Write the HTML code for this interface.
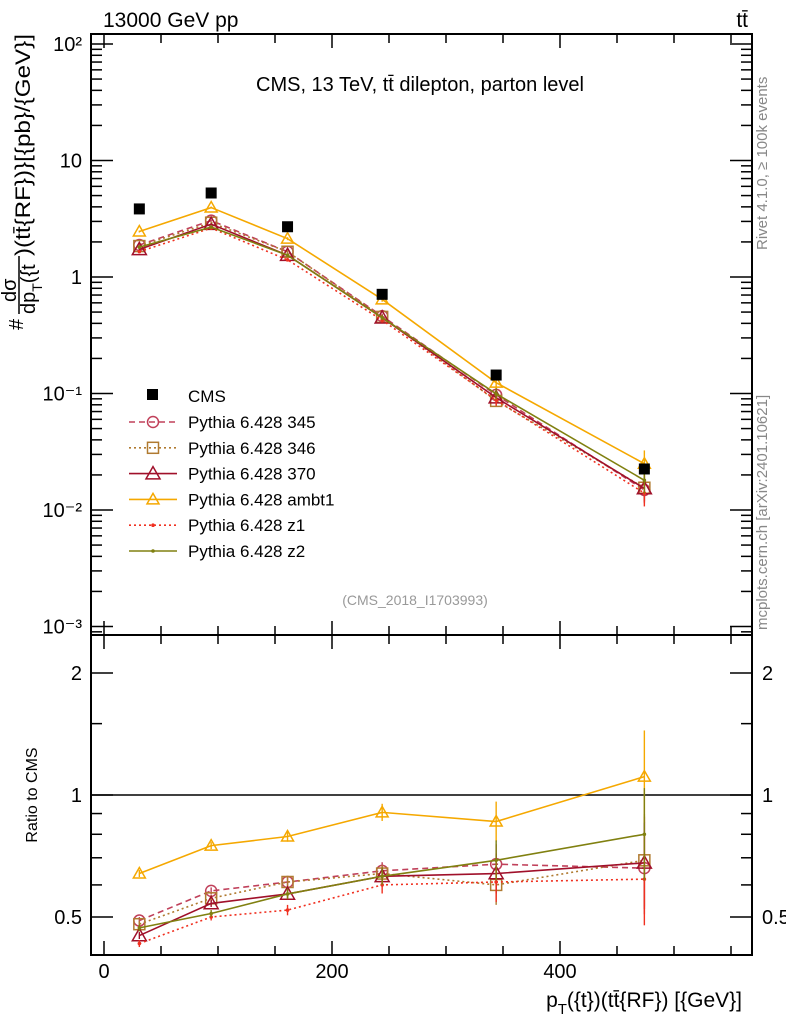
<!DOCTYPE html>
<html><head><meta charset="utf-8"><style>
body{margin:0;background:#fff;}
svg{display:block;font-family:"Liberation Sans",sans-serif;}
</style></head><body>
<svg id="c" width="786" height="1024" xmlns="http://www.w3.org/2000/svg"></svg>
<script>
const xCenters=[31,94,161,244,344,474];
const cmsVals=[3.84,5.26,2.70,0.71,0.144,0.0225];
const seriesNames=["Pythia 6.428 345","Pythia 6.428 346","Pythia 6.428 370","Pythia 6.428 ambt1","Pythia 6.428 z1","Pythia 6.428 z2"];
const ratio345=[0.49,0.58,0.61,0.65,0.675,0.66];
const ratio346=[0.48,0.556,0.61,0.64,0.60,0.69];
const ratio370=[0.45,0.54,0.57,0.63,0.64,0.68];
const ratioAmbt1=[0.64,0.75,0.79,0.906,0.86,1.11];
const ratioZ1=[0.43,0.50,0.52,0.60,0.61,0.62];
const ratioZ2=[0.47,0.51,0.57,0.63,0.69,0.80];
const mcErr=[0.02,0.02,0.03,0.05,0.12,0.3];
const xTicksMajor=[0,200,400];
const mainYTickLabels=["10\u207B\u00B3","10\u207B\u00B2","10\u207B\u00B9","1","10","10\u00B2"];
const ratioTickVals=[0.5,1,2];

const svg=document.getElementById('c');
const NS="http://www.w3.org/2000/svg";
function mk(tag,attrs,parent){const e=document.createElementNS(NS,tag);for(const k in attrs)e.setAttribute(k,attrs[k]);(parent||svg).appendChild(e);return e;}
const L=91,R=752,T=34,MB=635,RB=955;
const X=v=>104+1.14*v;
const Y=v=>277-116.5*Math.log10(v);
const RY=v=>795-122*Math.log2(v);

let f1=mk('rect',{x:L,y:T,width:R-L,height:MB-T,fill:'none',stroke:'#000','stroke-width':2});


let f2=mk('rect',{x:L,y:MB,width:R-L,height:RB-MB,fill:'none',stroke:'#000','stroke-width':2});



for(let v=0;v<=550;v+=50){
  const maj=v%200===0;const len=maj?14:9;
  for(const [yb,yt] of [[MB,T],[RB,MB]]){
    mk('line',{x1:X(v),x2:X(v),y1:yb,y2:yb-len,stroke:'#000','stroke-width':1.5});
    mk('line',{x1:X(v),x2:X(v),y1:yt,y2:yt+len,stroke:'#000','stroke-width':1.5});
  }
}
xTicksMajor.forEach(v=>{const t=mk('text',{x:X(v),y:978,'font-size':20,'text-anchor':'middle'});t.textContent=v;

});

for(let d=-4;d<=2;d++){
  for(let m=1;m<10;m++){
    const v=m*Math.pow(10,d);const y=Y(v);
    if(y<T||y>MB)continue;
    const len=m===1?22:11;
    mk('line',{x1:L,x2:L+len,y1:y,y2:y,stroke:'#000','stroke-width':1.5});
    mk('line',{x1:R,x2:R-len,y1:y,y2:y,stroke:'#000','stroke-width':1.5});
  }
}
mainYTickLabels.forEach((s,i)=>{const t=mk('text',{x:82,y:Y(Math.pow(10,i-3))+7,'font-size':20,'text-anchor':'end'});t.textContent=s;

});

[0.4,0.5,0.6,0.7,0.8,0.9,1,1.5,2].forEach(v=>{const y=RY(v);if(y<MB||y>RB)return;const len=(v===0.5||v===1||v===2)?22:11;
mk('line',{x1:L,x2:L+len,y1:y,y2:y,stroke:'#000','stroke-width':1.5});
mk('line',{x1:R,x2:R-len,y1:y,y2:y,stroke:'#000','stroke-width':1.5});});
ratioTickVals.forEach(v=>{const t=mk('text',{x:82,y:RY(v)+7,'font-size':20,'text-anchor':'end'});t.textContent=v;


const t2=mk('text',{x:762,y:RY(v)+7,'font-size':20});t2.textContent=v;

});
mk('line',{x1:L,x2:R,y1:RY(1),y2:RY(1),stroke:'#000','stroke-width':1.5});

const styles=[
 {r:ratio345,c:'#c0405a',dash:'6,4',mk:'circle'},
 {r:ratio346,c:'#b07a30',dash:'2,3',mk:'square'},
 {r:ratio370,c:'#a0102a',dash:'',mk:'tri'},
 {r:ratioAmbt1,c:'#f5a800',dash:'',mk:'tri'},
 {r:ratioZ1,c:'#f03020',dash:'2,3',mk:'dot'},
 {r:ratioZ2,c:'#808010',dash:'',mk:'dot'}];
function marker(kind,x,y,c,big,g){
  if(kind==='circle')return mk('circle',{cx:x,cy:y,r:5.5,fill:'none',stroke:c,'stroke-width':1.5},g);
  if(kind==='square')return mk('rect',{x:x-5.5,y:y-5.5,width:11,height:11,fill:'none',stroke:c,'stroke-width':1.5},g);
  if(kind==='tri'){const s=big?7:6;return mk('polygon',{points:`${x},${y-s} ${x-s},${y+s*0.75} ${x+s},${y+s*0.75}`,fill:'none',stroke:c,'stroke-width':1.5},g);}
  return mk('circle',{cx:x,cy:y,r:1.8,fill:c},g);
}
styles.forEach((s,si)=>{
  for(const panel of ['main','ratio']){
    const g=mk('g',{});
    
    
    const fy=panel==='main'?(i=>Y(cmsVals[i]*s.r[i])):(i=>RY(s.r[i]));
    const pts=xCenters.map((x,i)=>X(x)+','+fy(i)).join(' ');
    mk('polyline',{points:pts,fill:'none',stroke:s.c,'stroke-width':1.6,'stroke-dasharray':s.dash},g);
    xCenters.forEach((x,i)=>{
      const v=panel==='main'?cmsVals[i]*s.r[i]:s.r[i];const e=mcErr[i];
      const f=panel==='main'?Y:RY;
      mk('line',{x1:X(x),x2:X(x),y1:f(v*(1+e)),y2:f(v/(1+e)),stroke:s.c,'stroke-width':1.4},g);
      marker(s.mk,X(x),fy(i),s.c,si===2,g);
    });
  }
});
const gc=mk('g',{});


xCenters.forEach((x,i)=>{mk('rect',{x:X(x)-5.5,y:Y(cmsVals[i])-5.5,width:11,height:11,fill:'#000'},gc);});

const leg=mk('g',{});


mk('rect',{x:147,y:389,width:11,height:11,fill:'#000'},leg);
let lt=mk('text',{x:188,y:402,'font-size':17},leg);lt.textContent='CMS';
styles.forEach((s,i)=>{const y=422+i*25.8;
 mk('line',{x1:129,x2:177,y1:y,y2:y,stroke:s.c,'stroke-width':1.6,'stroke-dasharray':s.dash},leg);
 marker(s.mk,153,y,s.c,i===2,leg);
 const t=mk('text',{x:188,y:y+6,'font-size':17},leg);t.textContent=seriesNames[i];});

function txt(s,a,name){const t=mk('text',a);t.textContent=s;return t;}
txt('13000 GeV pp',{x:103,y:27,'font-size':21},'beam-label');
txt('tt\u0304',{x:748,y:27,'font-size':21,'text-anchor':'end'},'process-label');
txt('CMS, 13 TeV, tt\u0304 dilepton, parton level',{x:420,y:91,'font-size':20,'text-anchor':'middle'},'plot-title');
txt('(CMS_2018_I1703993)',{x:415,y:605,'font-size':14,'text-anchor':'middle',fill:'#999'},'analysis-id');
txt('Rivet 4.1.0, \u2265 100k events',{x:0,y:0,'font-size':15,fill:'#888',transform:'translate(767,250) rotate(-90)'},'rivet-label');
txt('mcplots.cern.ch [arXiv:2401.10621]',{x:0,y:0,'font-size':15,fill:'#888',transform:'translate(767,630) rotate(-90)'},'mcplots-label');
txt('Ratio to CMS',{x:0,y:0,'font-size':16,'text-anchor':'middle',transform:'translate(37,795) rotate(-90)'},'ratio-y-title');
const xl=mk('text',{x:742,y:1007,'font-size':21,'text-anchor':'end'});
xl.innerHTML='p<tspan font-size="15" dy="7">T</tspan><tspan dy="-7">({t})(tt\u0304{RF}) [{GeV}]</tspan>';



const yg=mk('g',{transform:'translate(30,330) rotate(-90)'});


let a=mk('text',{x:0,y:-7,'font-size':20},yg);a.textContent='#';
mk('line',{x1:16,x2:74,y1:-11,y2:-11,stroke:'#000','stroke-width':1.5},yg);
let b=mk('text',{x:28,y:-14,'font-size':20},yg);b.textContent='d\u03C3';
let c=mk('text',{x:16,y:5,'font-size':20},yg);c.innerHTML='dp<tspan font-size="14" dy="7">T</tspan><tspan dy="-7">({t</tspan>';
let d=mk('text',{x:74,y:0,'font-size':21,textLength:222,lengthAdjust:'spacingAndGlyphs'},yg);d.textContent=')(tt\u0304{RF})}[{pb}/{GeV}]';
</script>
</body></html>
